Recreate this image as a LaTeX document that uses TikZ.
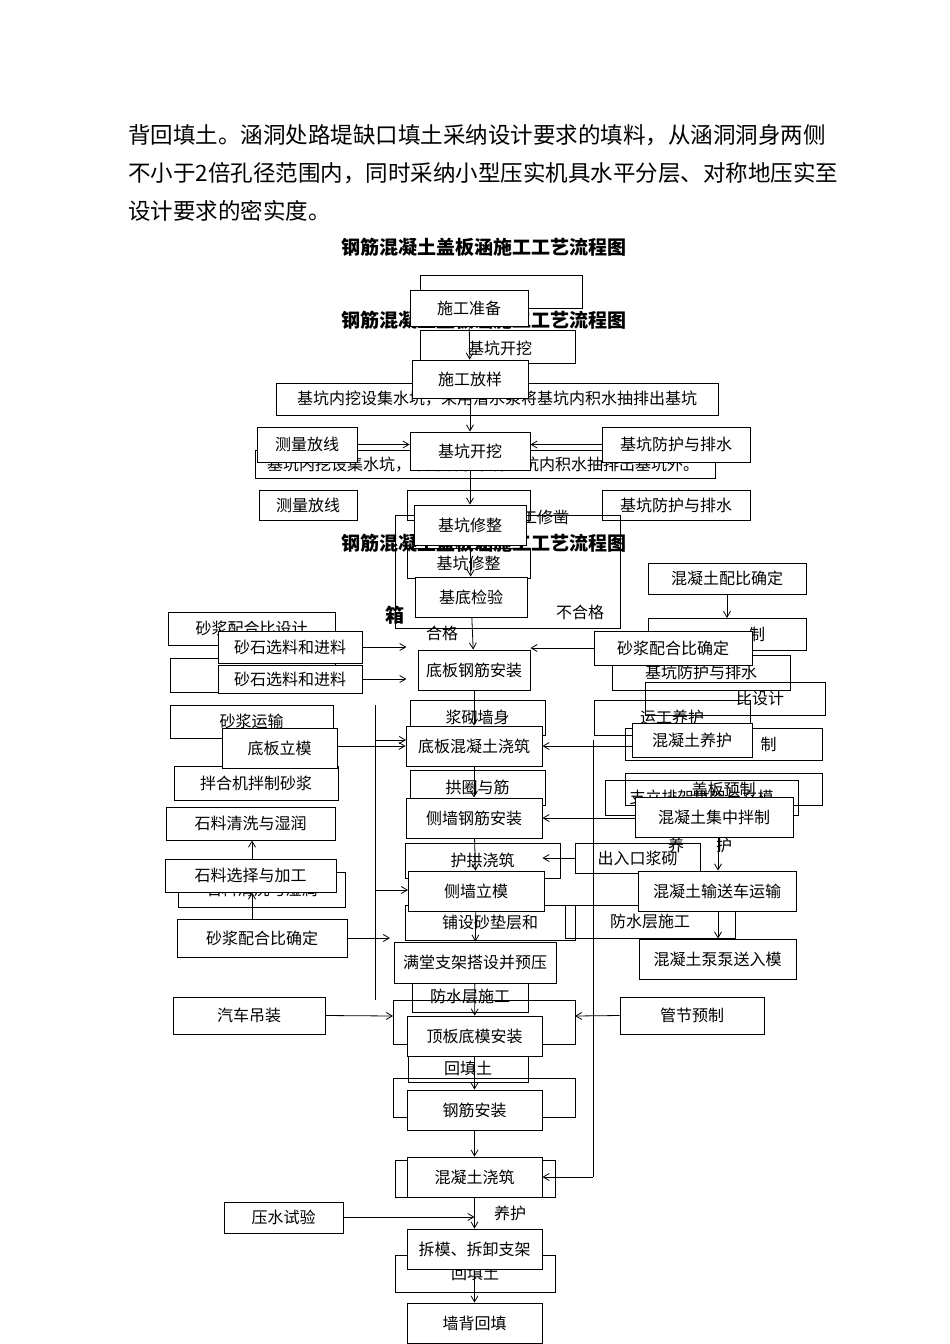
\documentclass[tikz,border=0pt]{standalone}
\usepackage{fontspec}
\setmainfont{Noto Sans CJK SC}
\usetikzlibrary{arrows.meta}
\tikzset{
  bx/.style={draw, line width=0.9pt, fill=white, inner sep=0pt, font=\fontsize{16}{18}\selectfont},
  gb/.style={draw, line width=0.8pt, inner sep=0pt, font=\fontsize{16}{18}\selectfont},
  ar/.style={-{Straight Barb[length=6pt,width=7pt]}, line width=0.8pt},
  ln/.style={line width=0.8pt},
  txt/.style={inner sep=0pt, font=\fontsize{16}{18}\selectfont},
  ttl/.style={inner sep=0pt, font=\fontsize{19}{21}\selectfont\bfseries},
  para/.style={inner sep=0pt, anchor=west, font=\fontsize{22.5}{24}\selectfont}
}
\newcommand{\bx}[7][bx]{\node[#1, minimum width={(#5-#3)*1pt}, minimum height={(#6-#4)*1pt}] (#2) at ({(#3+#5)/2},{(#4+#6)/2}) {#7};}
\begin{document}
\begin{tikzpicture}[x=1pt,y=-1pt]
\useasboundingbox (0,0) rectangle (950,1344);
% paragraph
\node[para] (p1) at (128,135) {背回填土。涵洞处路堤缺口填土采纳设计要求的填料，从涵洞洞身两侧};
\node[para] (p2) at (128,173) {不小于2倍孔径范围内，同时采纳小型压实机具水平分层、对称地压实至};
\node[para] (p3) at (128,211) {设计要求的密实度。};
\node[ttl] (t1) at (484,247) {钢筋混凝土盖板涵施工工艺流程图};
% ---- ghost layers ----
\bx[gb]{g1}{420}{275}{582}{308}{}
\node[ttl] (t2) at (484,320) {钢筋混凝土盖板涵施工工艺流程图};
\bx[gb]{g2}{420}{330}{575}{363}{}
\node[txt] (g2t) at (500,348) {基坑开挖};
\bx[gb]{g3}{276}{383}{718}{415}{基坑内挖设集水坑，采用潜水泵将基坑内积水抽排出基坑}
\node[txt] (g3b) at (483,465) {基坑内挖设集水坑，采用潜水泵将基坑内积水抽排出基坑外。};
\draw[ln] (255,450) rectangle (715,478);
\bx[gb]{g4}{259}{490}{357}{520}{测量放线}
\bx[gb]{g5}{602}{490}{750}{520}{基坑防护与排水}
\bx[gb]{g6}{407}{490}{530}{520}{}
\node[txt] (g6t) at (545,517) {工修凿};
\node[ttl] (t3) at (484,543) {钢筋混凝土盖板涵施工工艺流程图};
\bx[gb]{g7}{407}{548}{530}{578}{基坑修整}
\draw[ln] (395,515) rectangle (620,628);
\node[txt] (bu) at (580,612) {不合格};
\node[ttl] (xiang) at (395,615) {箱};
\node[txt] (hg) at (442,633) {合格};
\bx[gb]{g8}{168}{612}{335}{645}{砂浆配合比设计}
\bx[gb]{g9}{170}{658}{335}{692}{拌合}
\bx[gb]{g10}{170}{705}{333}{738}{砂浆运输}
\bx[gb]{g11}{174}{766}{338}{800}{拌合机拌制砂浆}
\bx[gb]{g12}{178}{872}{345}{907}{石料清洗与湿润}
\bx[gb]{g13}{648}{618}{806}{650}{\hspace*{60pt}制}
\bx[gb]{g14}{612}{655}{790}{690}{基坑防护与排水}
\bx[gb]{g15}{645}{682}{825}{715}{\hspace*{50pt}比设计}
\bx[gb]{g16}{594}{700}{750}{735}{运工养护}
\bx[gb]{g17}{625}{728}{822}{760}{\hspace*{90pt}制}
\bx[gb]{g18}{625}{773}{822}{805}{盖板预制}
\bx[gb]{g19}{605}{780}{798}{815}{支立排架拱架与立模}
\node[txt] (yh) at (700,845) {养\qquad 护};
\bx[gb]{g20}{410}{700}{545}{735}{浆砌墙身}
\bx[gb]{g21}{410}{770}{545}{805}{拱圈与筋}
\bx[gb]{g22}{405}{843}{560}{878}{护拱浇筑}
\bx[gb]{g23}{575}{843}{700}{873}{出入口浆砌}
\bx[gb]{g24}{405}{905}{575}{940}{铺设砂垫层和}
\bx[gb]{g25}{565}{905}{735}{938}{防水层施工}
\bx[gb]{g26}{412}{980}{528}{1012}{防水层施工}
\bx[gb]{g27}{408}{1055}{528}{1082}{回填土}
\bx[gb]{g28}{395}{1255}{555}{1292}{\raisebox{-12pt}{回填土}}
\draw[ln] (393,1000) rectangle (575,1044);
\draw[ln] (393,1078) rectangle (575,1117);
\draw[ln] (395,1160) rectangle (555,1197);
% ---- top layer ----
\bx{a1}{410}{290}{528}{326}{施工准备}
\bx{a2}{412}{360}{528}{398}{施工放样}
\bx{a3}{410}{432}{530}{470}{基坑开挖}
\bx{a4}{414}{505}{526}{545}{基坑修整}
\bx{a5}{415}{577}{527}{617}{基底检验}
\bx{a6}{418}{650}{530}{690}{底板钢筋安装}
\bx{a7}{406}{726}{542}{766}{底板混凝土浇筑}
\bx{a8}{406}{798}{542}{838}{侧墙钢筋安装}
\bx{a9}{408}{871}{544}{911}{侧墙立模}
\bx{a10}{394}{942}{556}{983}{满堂支架搭设并预压}
\bx{a11}{407}{1016}{542}{1056}{顶板底模安装}
\bx{a12}{407}{1090}{542}{1130}{钢筋安装}
\bx{a13}{407}{1157}{542}{1197}{混凝土浇筑}
\bx{a14}{407}{1229}{542}{1269}{拆模、拆卸支架}
\bx{a15}{407}{1303}{542}{1343}{墙背回填}
\bx{m1}{257}{427}{357}{462}{测量放线}
\bx{m2}{602}{427}{750}{462}{基坑防护与排水}
\bx{l1}{218}{631}{362}{663}{砂石选料和进料}
\bx{l2}{218}{665}{362}{693}{砂石选料和进料}
\bx{l3}{222}{728}{337}{768}{底板立模}
\bx{l4}{166}{807}{335}{840}{石料清洗与湿润}
\bx{l5}{165}{859}{336}{892}{石料选择与加工}
\bx{l6}{177}{919}{347}{957}{砂浆配合比确定}
\bx{r1}{648}{563}{806}{594}{混凝土配比确定}
\bx{r2}{594}{631}{752}{665}{砂浆配合比确定}
\bx{r3}{632}{723}{752}{757}{混凝土养护}
\bx{r4}{635}{797}{793}{837}{混凝土集中拌制}
\bx{r5}{638}{871}{796}{911}{混凝土输送车运输}
\bx{r6}{639}{939}{796}{979}{混凝土泵泵送入模}
\bx{s1}{173}{997}{325}{1034}{汽车吊装}
\bx{s2}{620}{997}{764}{1034}{管节预制}
\bx{s3}{224}{1202}{343}{1233}{压水试验}
% main arrows
\foreach \u/\v in {a1/a2,a2/a3,a3/a4,a4/a5,a5/a6,a6/a7,a7/a8,a8/a9,a9/a10,a10/a11,a11/a12,a12/a13,a14/a15}
  \draw[ar] (\u) -- (\v);
\coordinate (yp) at (474.5,1217);
\draw[ln] (a13) -- (yp);
\draw[ar] (yp) -- (a14);
\node[txt] (yhl) at (510,1213) {养护};
\draw[ar] (m1.east) -- (a3.west|-m1.east);
\draw[ar] (m2.west) -- (a3.east|-m2.west);
\draw[ar] (l1.east) -- ++(44,0);
\draw[ar] (l2.east) -- ++(44,0);
\draw[ar] (l3.east|-a7.west) -- (a7.west);
\draw[ar] (l6.east) -- (390,938);
\draw[ar] (l6.north-|252,0) -- (l5.south-|252,0);
\draw[ar] (l5.north-|252,0) -- (l4.south-|252,0);
\draw[ar] (r2.west) -- (a6.east|-r2.west);
\draw[ar] (r3.west|-a7.east) -- (a7.east);
\draw[ar] (r4.west|-a8.east) -- (a8.east);
\draw[ar] (r1.south) -- (727,618);
\draw[ar] (r4.south-|718,0) -- (r5.north-|718,0);
\draw[ar] (r5.south-|718,0) -- (r6.north-|718,0);
\draw[ar] (s1.east) -- (393,1016);
\draw[ar] (s2.west) -- (575,1016);
\draw[ar] (s3.east|-yp) -- (yp);
\coordinate (c1) at (593,1177);
\coordinate (c2) at (593,740);
\draw[ln] (c2) -- (c1);
\draw[ar] (c1) -- (a13.east);
\draw[ar] (g23.west) -- (a8.east|-g23);
\draw[ln] (375,705) -- (375,1000);
\draw[ar] (375,740) -- (406,740);
\draw[ar] (375,890) -- (408,890);
\end{tikzpicture}
\end{document}
